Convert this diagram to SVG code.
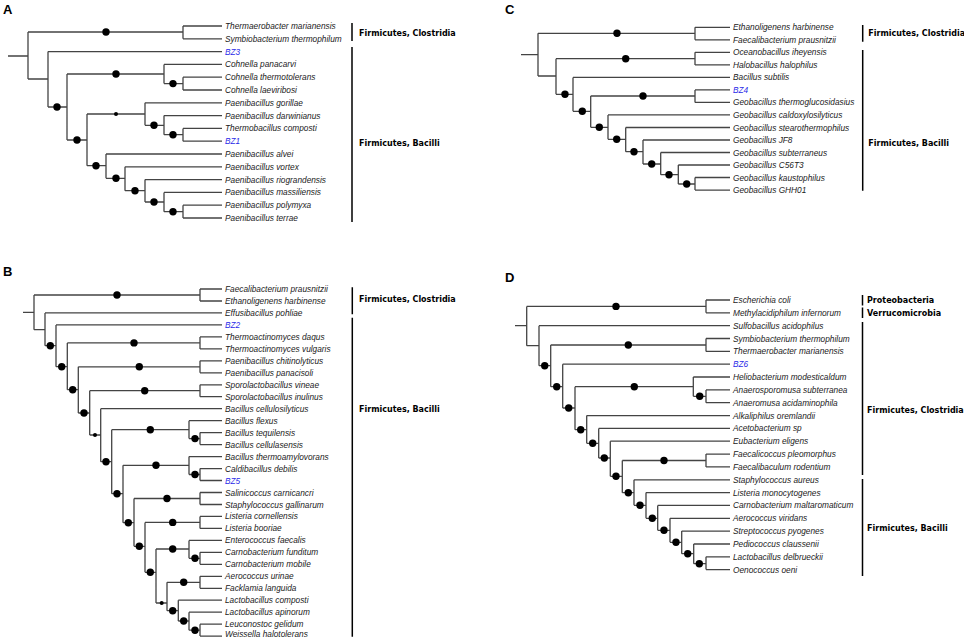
<svg xmlns="http://www.w3.org/2000/svg" width="964" height="639" viewBox="0 0 964 639">
<style>
.e{stroke:#444;stroke-width:1.3;fill:none}
.d{fill:#000}
.t{font-family:"Liberation Sans",Arial,sans-serif;font-style:italic;font-size:8.3px;fill:#222}
.bz{fill:#2a2ae8}
.g{font-family:"DejaVu Sans",Verdana,sans-serif;font-weight:bold;font-size:8px;fill:#000}
.p{font-family:"Liberation Sans",Arial,sans-serif;font-weight:bold;font-size:13px;fill:#000}
.br{stroke:#000;stroke-width:1.5;fill:none}
</style>
<rect width="964" height="639" fill="#fff"/>

<!-- ================= PANEL A ================= -->
<g id="panelA">
<text class="p" x="3" y="14">A</text>
<g id="A-connectors" class="e">
<path d="M8,56H28M28,32V79M28,32H183M183,26V38.8M183,26H222M183,38.8H222
M28,79H48M48,51.6V107M48,51.6H222M48,107H67
M67,74V140M67,74H164M164,64.4V83.6M164,64.4H222M164,83.6H183M183,77.2V90M183,77.2H222M183,90H222
M67,140H87M87,114V165.7M87,114H145M145,102.8V125.3M145,102.8H222M145,125.3H164M164,115.6V134.7M164,115.6H222M164,134.7H183M183,128.4V141.2M183,128.4H222M183,141.2H222
M87,165.7H106M106,154V178.3M106,154H222M106,178.3H125M125,166.8V190.7M125,166.8H222M125,190.7H145M145,179.6V202M145,179.6H222M145,202H164M164,192.4V211.7M164,192.4H222M164,211.7H183M183,205.2V218M183,205.2H222M183,218H222"/>
</g>
<g id="A-internal" class="d">
<g id="A-n1"><circle cx="106" cy="32" r="3.7"/></g>
<g id="A-n2"><circle cx="57" cy="107" r="3.7"/></g>
<g id="A-n3"><circle cx="116" cy="74" r="3.7"/></g>
<g id="A-n4"><circle cx="173" cy="83.6" r="3.7"/></g>
<g id="A-n5"><circle cx="77" cy="140" r="3.7"/></g>
<g id="A-n6"><circle cx="116" cy="114" r="2"/></g>
<g id="A-n7"><circle cx="154" cy="125.3" r="3.7"/></g>
<g id="A-n8"><circle cx="173" cy="134.7" r="3.7"/></g>
<g id="A-n9"><circle cx="96" cy="165.7" r="3.7"/></g>
<g id="A-n10"><circle cx="116" cy="178.3" r="3.7"/></g>
<g id="A-n11"><circle cx="135" cy="190.7" r="3.7"/></g>
<g id="A-n12"><circle cx="154" cy="202" r="3.7"/></g>
<g id="A-n13"><circle cx="173" cy="211.7" r="3.7"/></g>
</g>
<g id="A-leaves" class="t">
<g id="A-l0"><text x="225" y="29">Thermaerobacter marianensis</text></g>
<g id="A-l1"><text x="225" y="41.8">Symbiobacterium thermophilum</text></g>
<g id="A-l2"><text x="225" y="54.6" class="bz">BZ3</text></g>
<g id="A-l3"><text x="225" y="67.4">Cohnella panacarvi</text></g>
<g id="A-l4"><text x="225" y="80.2">Cohnella thermotolerans</text></g>
<g id="A-l5"><text x="225" y="93">Cohnella laeviribosi</text></g>
<g id="A-l6"><text x="225" y="105.8">Paenibacillus gorillae</text></g>
<g id="A-l7"><text x="225" y="118.6">Paenibacillus darwinianus</text></g>
<g id="A-l8"><text x="225" y="131.4">Thermobacillus composti</text></g>
<g id="A-l9"><text x="225" y="144.2" class="bz">BZ1</text></g>
<g id="A-l10"><text x="225" y="157">Paenibacillus alvei</text></g>
<g id="A-l11"><text x="225" y="169.8">Paenibacillus vortex</text></g>
<g id="A-l12"><text x="225" y="182.6">Paenibacillus riograndensis</text></g>
<g id="A-l13"><text x="225" y="195.4">Paenibacillus massiliensis</text></g>
<g id="A-l14"><text x="225" y="208.2">Paenibacillus polymyxa</text></g>
<g id="A-l15"><text x="225" y="221">Paenibacillus terrae</text></g>
</g>
<g id="A-groups">
<path class="br" d="M352,23V41M352,47V222"/>
<text class="g" x="359" y="35.6">Firmicutes, Clostridia</text>
<text class="g" x="359" y="146">Firmicutes, Bacilli</text>
</g>
</g>

<!-- ================= PANEL C ================= -->
<g id="panelC">
<text class="p" x="505" y="14">C</text>
<g id="C-connectors" class="e">
<path d="M521,54.7H538M538,33.3V76M538,33.3H695M695,27.3V39.8M695,27.3H730M695,39.8H730
M538,76H556M556,58.7V94.3M556,58.7H695M695,52.3V64.9M695,52.3H730M695,64.9H730
M556,94.3H573M573,77.4V111.3M573,77.4H730M573,111.3H590.7
M590.7,96V127.3M590.7,96H695M695,89.9V102.4M695,89.9H730M695,102.4H730M590.7,127.3H608
M608,114.9V139.3M608,114.9H730M608,139.3H625.7
M625.7,127.5V151.7M625.7,127.5H730M625.7,151.7H643
M643,140V164M643,140H730M643,164H660.7
M660.7,152.5V174.7M660.7,152.5H730M660.7,174.7H678.3
M678.3,165V184M678.3,165H730M678.3,184H695M695,177.5V190.1M695,177.5H730M695,190.1H730"/>
</g>
<g id="C-internal" class="d">
<g id="C-n1"><circle cx="617" cy="33.3" r="3.7"/></g>
<g id="C-n2"><circle cx="625.7" cy="58.7" r="3.7"/></g>
<g id="C-n3"><circle cx="565" cy="94.3" r="3.7"/></g>
<g id="C-n4"><circle cx="582.3" cy="111.3" r="3.7"/></g>
<g id="C-n5"><circle cx="643" cy="96" r="3.7"/></g>
<g id="C-n6"><circle cx="599.3" cy="127.3" r="3.7"/></g>
<g id="C-n7"><circle cx="616.7" cy="139.3" r="3.7"/></g>
<g id="C-n8"><circle cx="634" cy="151.7" r="3.7"/></g>
<g id="C-n9"><circle cx="651.7" cy="164" r="3.7"/></g>
<g id="C-n10"><circle cx="669" cy="174.7" r="3.7"/></g>
<g id="C-n11"><circle cx="686.7" cy="184" r="3.7"/></g>
</g>
<g id="C-leaves" class="t">
<g id="C-l0"><text x="733" y="30.3">Ethanoligenens harbinense</text></g>
<g id="C-l1"><text x="733" y="42.8">Faecalibacterium prausnitzii</text></g>
<g id="C-l2"><text x="733" y="55.3">Oceanobacillus iheyensis</text></g>
<g id="C-l3"><text x="733" y="67.9">Halobacillus halophilus</text></g>
<g id="C-l4"><text x="733" y="80.4">Bacillus subtilis</text></g>
<g id="C-l5"><text x="733" y="92.9" class="bz">BZ4</text></g>
<g id="C-l6"><text x="733" y="105.4">Geobacillus thermoglucosidasius</text></g>
<g id="C-l7"><text x="733" y="117.9">Geobacillus caldoxylosilyticus</text></g>
<g id="C-l8"><text x="733" y="130.5">Geobacillus stearothermophilus</text></g>
<g id="C-l9"><text x="733" y="143">Geobacillus JF8</text></g>
<g id="C-l10"><text x="733" y="155.5">Geobacillus subterraneus</text></g>
<g id="C-l11"><text x="733" y="168">Geobacillus C56T3</text></g>
<g id="C-l12"><text x="733" y="180.5">Geobacillus kaustophilus</text></g>
<g id="C-l13"><text x="733" y="193.1">Geobacillus GHH01</text></g>
</g>
<g id="C-groups">
<path class="br" d="M862.7,25V41.7M862.7,50V190.7"/>
<text class="g" x="868.3" y="36">Firmicutes, Clostridia</text>
<text class="g" x="868.3" y="146">Firmicutes, Bacilli</text>
</g>
</g>

<!-- ================= PANEL B ================= -->
<g id="panelB">
<text class="p" x="3" y="276">B</text>
<g id="B-connectors" class="e">
<path d="M23,312.3H34M34,295V329.7M34,295H200M200,289V301M200,289H222M200,301H222
M34,329.7H45M45,312.9V345.7M45,312.9H222M45,345.7H56
M56,324.9V366.7M56,324.9H222M56,366.7H67.3
M67.3,342.9V389.7M67.3,342.9H200M200,336.9V348.9M200,336.9H222M200,348.9H222M67.3,389.7H78.3
M78.3,366.8V413M78.3,366.8H200M200,360.8V372.8M200,360.8H222M200,372.8H222M78.3,413H89.7
M89.7,390.7V435M89.7,390.7H200M200,384.8V396.7M200,384.8H222M200,396.7H222M89.7,435H100.7
M100.7,408.7V461.7M100.7,408.7H222M100.7,461.7H111.7
M111.7,429.7V493.7M111.7,429.7H189M189,420.7V438.6M189,420.7H222M189,438.6H200M200,432.6V444.6M200,432.6H222M200,444.6H222M111.7,493.7H123
M123,465.3V522.7M123,465.3H189M189,456.6V474.5M189,456.6H222M189,474.5H200M200,468.6V480.5M200,468.6H222M200,480.5H222M123,522.7H134
M134,498.5V546.3M134,498.5H200M200,492.5V504.5M200,492.5H222M200,504.5H222M134,546.3H145
M145,522.4V572.3M145,522.4H200M200,516.4V528.4M200,516.4H222M200,528.4H222M145,572.3H156
M156,549V603M156,549H189M189,540.4V558.3M189,540.4H222M189,558.3H200M200,552.3V564.3M200,552.3H222M200,564.3H222M156,603H167
M167,582.3V610.7M167,582.3H200M200,576.3V588.3M200,576.3H222M200,588.3H222M167,610.7H178.3
M178.3,600.2V621M178.3,600.2H222M178.3,621H189M189,612.2V630.2M189,612.2H222M189,630.2H200M200,624.2V636.1M200,624.2H222M200,636.1H222"/>
</g>
<g id="B-internal" class="d">
<g id="B-n1"><circle cx="117" cy="295" r="3.7"/></g>
<g id="B-n2"><circle cx="50.3" cy="345.7" r="3.7"/></g>
<g id="B-n3"><circle cx="61.7" cy="366.7" r="3.7"/></g>
<g id="B-n4"><circle cx="134" cy="342.9" r="3.7"/></g>
<g id="B-n5"><circle cx="72.7" cy="389.7" r="3.7"/></g>
<g id="B-n6"><circle cx="139.3" cy="366.8" r="3.7"/></g>
<g id="B-n7"><circle cx="84" cy="413" r="3.7"/></g>
<g id="B-n8"><circle cx="144.7" cy="390.7" r="3.7"/></g>
<g id="B-n9"><circle cx="95" cy="435" r="2"/></g>
<g id="B-n10"><circle cx="106" cy="461.7" r="3.7"/></g>
<g id="B-n11"><circle cx="150.3" cy="429.7" r="3.7"/></g>
<g id="B-n12"><circle cx="195" cy="438.6" r="3.7"/></g>
<g id="B-n13"><circle cx="117" cy="493.7" r="3.7"/></g>
<g id="B-n14"><circle cx="156" cy="465.3" r="3.7"/></g>
<g id="B-n15"><circle cx="195" cy="474.5" r="3.7"/></g>
<g id="B-n16"><circle cx="128.3" cy="522.7" r="3.7"/></g>
<g id="B-n17"><circle cx="167" cy="498.5" r="3.7"/></g>
<g id="B-n18"><circle cx="139.3" cy="546.3" r="3.7"/></g>
<g id="B-n19"><circle cx="172.7" cy="522.4" r="3.7"/></g>
<g id="B-n20"><circle cx="150.3" cy="572.3" r="3.7"/></g>
<g id="B-n21"><circle cx="172.7" cy="549" r="3.7"/></g>
<g id="B-n22"><circle cx="195" cy="558.3" r="3.7"/></g>
<g id="B-n23"><circle cx="161.7" cy="603" r="2"/></g>
<g id="B-n24"><circle cx="183.7" cy="582.3" r="3.7"/></g>
<g id="B-n25"><circle cx="172.7" cy="610.7" r="3.7"/></g>
<g id="B-n26"><circle cx="183.7" cy="621" r="3.7"/></g>
<g id="B-n27"><circle cx="195" cy="630.2" r="3.7"/></g>
</g>
<g id="B-leaves" class="t">
<g id="B-l0"><text x="225" y="292">Faecalibacterium prausnitzii</text></g>
<g id="B-l1"><text x="225" y="304">Ethanoligenens harbinense</text></g>
<g id="B-l2"><text x="225" y="315.9">Effusibacillus pohliae</text></g>
<g id="B-l3"><text x="225" y="327.9" class="bz">BZ2</text></g>
<g id="B-l4"><text x="225" y="339.9">Thermoactinomyces daqus</text></g>
<g id="B-l5"><text x="225" y="351.9">Thermoactinomyces vulgaris</text></g>
<g id="B-l6"><text x="225" y="363.8">Paenibacillus chitinolyticus</text></g>
<g id="B-l7"><text x="225" y="375.8">Paenibacillus panacisoli</text></g>
<g id="B-l8"><text x="225" y="387.8">Sporolactobacillus vineae</text></g>
<g id="B-l9"><text x="225" y="399.7">Sporolactobacillus inulinus</text></g>
<g id="B-l10"><text x="225" y="411.7">Bacillus cellulosilyticus</text></g>
<g id="B-l11"><text x="225" y="423.7">Bacillus flexus</text></g>
<g id="B-l12"><text x="225" y="435.6">Bacillus tequilensis</text></g>
<g id="B-l13"><text x="225" y="447.6">Bacillus cellulasensis</text></g>
<g id="B-l14"><text x="225" y="459.6">Bacillus thermoamylovorans</text></g>
<g id="B-l15"><text x="225" y="471.6">Caldibacillus debilis</text></g>
<g id="B-l16"><text x="225" y="483.5" class="bz">BZ5</text></g>
<g id="B-l17"><text x="225" y="495.5">Salinicoccus carnicancri</text></g>
<g id="B-l18"><text x="225" y="507.5">Staphylococcus gallinarum</text></g>
<g id="B-l19"><text x="225" y="519.4">Listeria cornellensis</text></g>
<g id="B-l20"><text x="225" y="531.4">Listeria booriae</text></g>
<g id="B-l21"><text x="225" y="543.4">Enterococcus faecalis</text></g>
<g id="B-l22"><text x="225" y="555.3">Carnobacterium funditum</text></g>
<g id="B-l23"><text x="225" y="567.3">Carnobacterium mobile</text></g>
<g id="B-l24"><text x="225" y="579.3">Aerococcus urinae</text></g>
<g id="B-l25"><text x="225" y="591.3">Facklamia languida</text></g>
<g id="B-l26"><text x="225" y="603.2">Lactobacillus composti</text></g>
<g id="B-l27"><text x="225" y="615.2">Lactobacillus apinorum</text></g>
<g id="B-l28"><text x="225" y="627.2">Leuconostoc gelidum</text></g>
<g id="B-l29"><text x="225" y="637.2">Weissella halotolerans</text></g>
</g>
<g id="B-groups">
<path class="br" d="M352.3,287.3V314.3M352.3,317.7V636.7"/>
<text class="g" x="359" y="302">Firmicutes, Clostridia</text>
<text class="g" x="359" y="412.3">Firmicutes, Bacilli</text>
</g>
</g>

<!-- ================= PANEL D ================= -->
<g id="panelD">
<text class="p" x="505" y="282">D</text>
<g id="D-connectors" class="e">
<path d="M515,325.7H526.7M526.7,306.4V345.7M526.7,306.4H706M706,300V312.8M706,300H730M706,312.8H730
M526.7,345.7H539M539,325.7V365.7M539,325.7H730M539,365.7H550.7
M550.7,345V386.7M550.7,345H706M706,338.5V351.4M706,338.5H730M706,351.4H730M550.7,386.7H562.7
M562.7,364.2V408M562.7,364.2H730M562.7,408H575
M575,386.7V429.7M575,386.7H693.3M693.3,377V396.3M693.3,377H730M693.3,396.3H706M706,389.9V402.7M706,389.9H730M706,402.7H730M575,429.7H586.7
M586.7,415.6V443.3M586.7,415.6H730M586.7,443.3H598.7
M598.7,428.4V458M598.7,428.4H730M598.7,458H610.3
M610.3,441.2V476.3M610.3,441.2H730M610.3,476.3H622.3
M622.3,460.5V492.7M622.3,460.5H706M706,454.1V466.9M706,454.1H730M706,466.9H730M622.3,492.7H634
M634,479.8V505.3M634,479.8H730M634,505.3H646
M646,492.6V518.3M646,492.6H730M646,518.3H657.7
M657.7,505.4V530.3M657.7,505.4H730M657.7,530.3H670
M670,518.3V542.3M670,518.3H730M670,542.3H681.7
M681.7,531.1V553.7M681.7,531.1H730M681.7,553.7H693.7
M693.7,544V563.7M693.7,544H730M693.7,563.7H706M706,556.8V569.6M706,556.8H730M706,569.6H730"/>
</g>
<g id="D-internal" class="d">
<g id="D-n1"><circle cx="616" cy="306.4" r="3.7"/></g>
<g id="D-n2"><circle cx="544.7" cy="365.7" r="3.7"/></g>
<g id="D-n3"><circle cx="628.3" cy="345" r="3.7"/></g>
<g id="D-n4"><circle cx="556.7" cy="386.7" r="3.7"/></g>
<g id="D-n5"><circle cx="568.7" cy="408" r="3.7"/></g>
<g id="D-n6"><circle cx="634.3" cy="386.7" r="3.7"/></g>
<g id="D-n7"><circle cx="699.7" cy="396.3" r="3.7"/></g>
<g id="D-n8"><circle cx="580.7" cy="429.7" r="3.7"/></g>
<g id="D-n9"><circle cx="592.7" cy="443.3" r="3.7"/></g>
<g id="D-n10"><circle cx="604.3" cy="458" r="3.7"/></g>
<g id="D-n11"><circle cx="616" cy="476.3" r="3.7"/></g>
<g id="D-n12"><circle cx="664" cy="460.5" r="3.7"/></g>
<g id="D-n13"><circle cx="628.3" cy="492.7" r="3.7"/></g>
<g id="D-n14"><circle cx="640" cy="505.3" r="3.7"/></g>
<g id="D-n15"><circle cx="652.3" cy="518.3" r="3.7"/></g>
<g id="D-n16"><circle cx="664" cy="530.3" r="3.7"/></g>
<g id="D-n17"><circle cx="676" cy="542.3" r="3.7"/></g>
<g id="D-n18"><circle cx="687.7" cy="553.7" r="3.7"/></g>
<g id="D-n19"><circle cx="699.3" cy="563.7" r="3.7"/></g>
</g>
<g id="D-leaves" class="t">
<g id="D-l0"><text x="733" y="303">Escherichia coli</text></g>
<g id="D-l1"><text x="733" y="315.8">Methylacidiphilum infernorum</text></g>
<g id="D-l2"><text x="733" y="328.7">Sulfobacillus acidophilus</text></g>
<g id="D-l3"><text x="733" y="341.5">Symbiobacterium thermophilum</text></g>
<g id="D-l4"><text x="733" y="354.4">Thermaerobacter marianensis</text></g>
<g id="D-l5"><text x="733" y="367.2" class="bz">BZ6</text></g>
<g id="D-l6"><text x="733" y="380">Heliobacterium modesticaldum</text></g>
<g id="D-l7"><text x="733" y="392.9">Anaerosporomusa subterranea</text></g>
<g id="D-l8"><text x="733" y="405.7">Anaeromusa acidaminophila</text></g>
<g id="D-l9"><text x="733" y="418.6">Alkaliphilus oremlandii</text></g>
<g id="D-l10"><text x="733" y="431.4">Acetobacterium sp</text></g>
<g id="D-l11"><text x="733" y="444.2">Eubacterium eligens</text></g>
<g id="D-l12"><text x="733" y="457.1">Faecalicoccus pleomorphus</text></g>
<g id="D-l13"><text x="733" y="469.9">Faecalibaculum rodentium</text></g>
<g id="D-l14"><text x="733" y="482.8">Staphylococcus aureus</text></g>
<g id="D-l15"><text x="733" y="495.6">Listeria monocytogenes</text></g>
<g id="D-l16"><text x="733" y="508.4">Carnobacterium maltaromaticum</text></g>
<g id="D-l17"><text x="733" y="521.3">Aerococcus viridans</text></g>
<g id="D-l18"><text x="733" y="534.1">Streptococcus pyogenes</text></g>
<g id="D-l19"><text x="733" y="547">Pediococcus claussenii</text></g>
<g id="D-l20"><text x="733" y="559.8">Lactobacillus delbrueckii</text></g>
<g id="D-l21"><text x="733" y="572.6">Oenococcus oeni</text></g>
</g>
<g id="D-groups">
<path class="br" d="M862.5,295V305.5M862.5,307.5V318M862.5,322V475M862.5,479V576"/>
<text class="g" x="867" y="303">Proteobacteria</text>
<text class="g" x="867" y="316">Verrucomicrobia</text>
<text class="g" x="867" y="413">Firmicutes, Clostridia</text>
<text class="g" x="867" y="531">Firmicutes, Bacilli</text>
</g>
</g>
</svg>
